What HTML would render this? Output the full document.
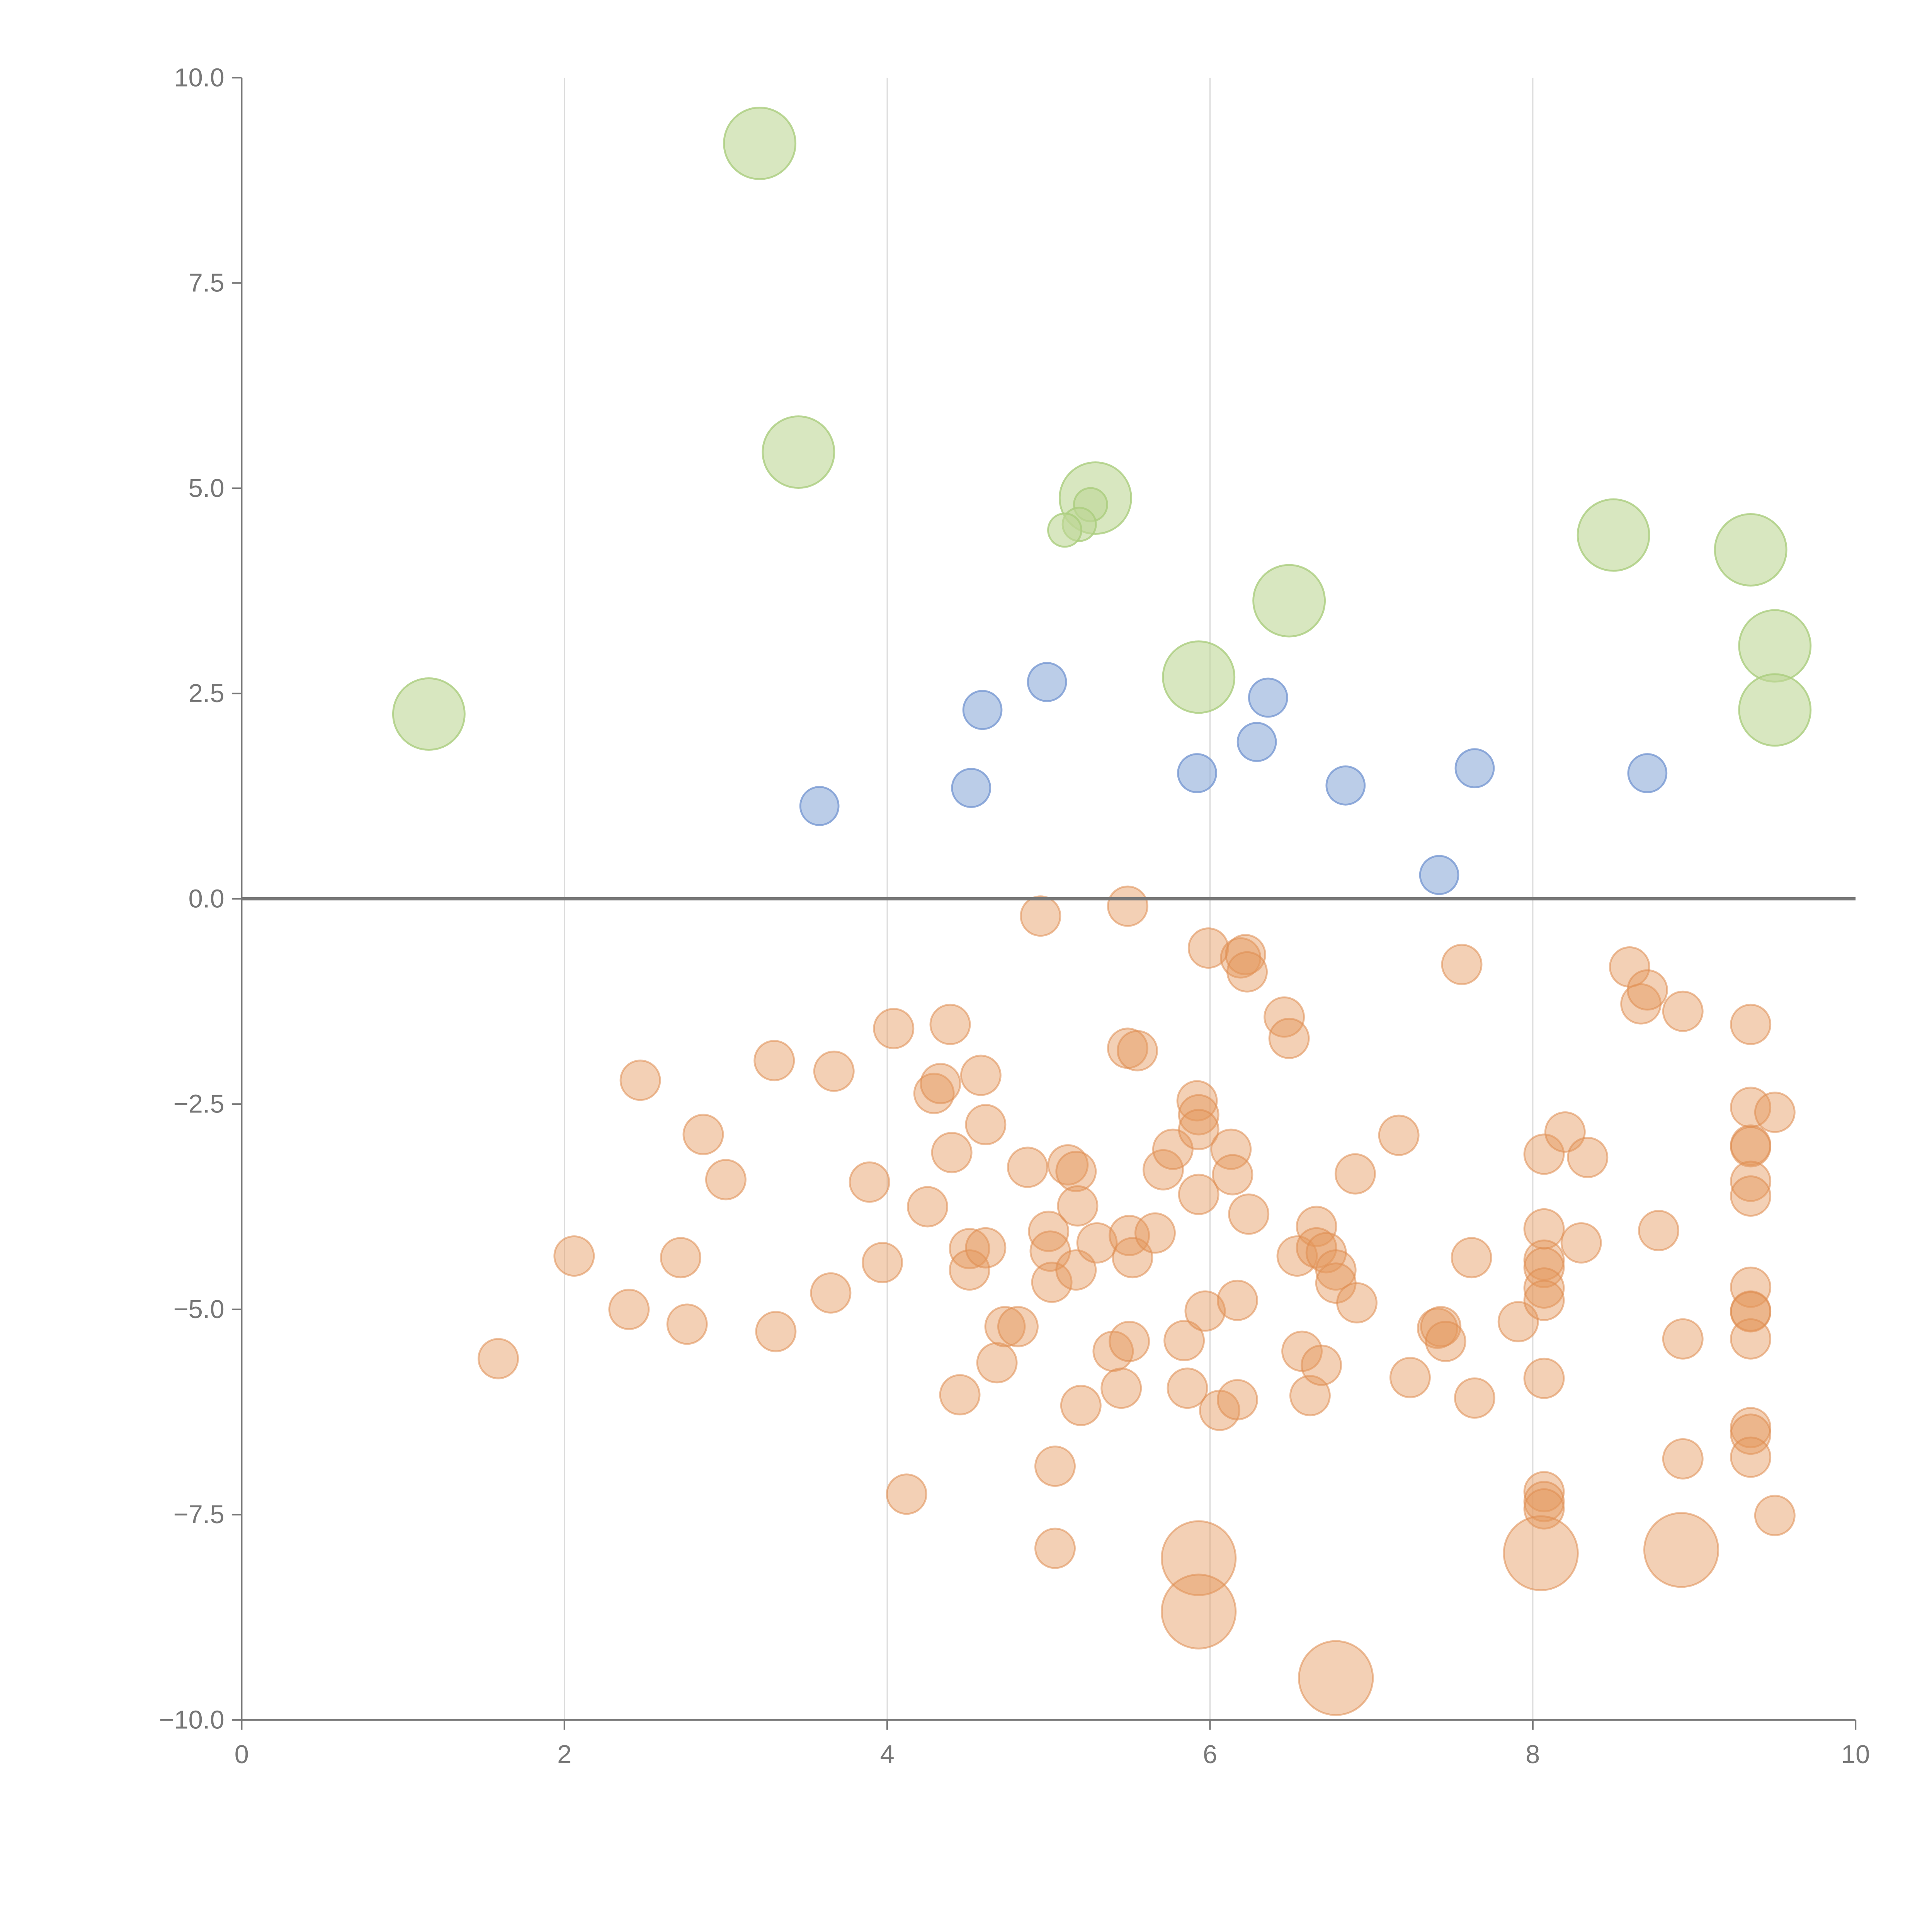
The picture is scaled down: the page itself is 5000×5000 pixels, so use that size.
<!DOCTYPE html>
<html><head><meta charset="utf-8"><style>html,body{margin:0;padding:0;background:#fff}svg{display:block}</style></head>
<body>
<svg id="chart" width="5000" height="5000" viewBox="0 0 1567 1567" xmlns="http://www.w3.org/2000/svg" font-family="Liberation Sans, sans-serif"></svg>
<script>
const xTicks=[0,2,4,6,8,10];
const yTicks=[10,7.5,5,2.5,0,-2.5,-5,-7.5,-10];
const blueX=[3.58,4.52,4.59,4.99,5.92,6.29,6.36,6.84,7.64,8.71,7.42];
const blueY=[1.13,1.35,2.30,2.64,1.53,1.91,2.45,1.38,1.59,1.53,0.29];
const greenX=[3.21,3.45,5.29,5.26,5.19,5.10,6.49,5.93,1.16,8.50,9.35,9.50,9.50];
const greenY=[9.20,5.44,4.88,4.80,4.56,4.49,3.63,2.70,2.25,4.43,4.25,3.08,2.30];
const greenS=[2,2,2,1,1,1,2,2,2,2,2,2,2];
const orangeX=[1.59,2.06,2.40,2.47,2.72,2.76,2.86,3.00,3.30,3.31,3.65,3.67,3.89,3.97,4.04,4.12,4.25,4.29,4.33,4.39,4.40,4.45,4.51,4.51,4.58,4.61,4.61,4.68,4.73,4.81,4.87,4.95,5.00,5.01,5.02,5.04,5.04,5.12,5.17,5.17,5.18,5.20,5.30,5.40,5.45,5.49,5.49,5.50,5.50,5.52,5.55,5.66,5.71,5.77,5.84,5.86,5.92,5.93,5.93,5.93,5.97,5.99,6.06,6.13,6.14,6.17,6.17,6.19,6.22,6.23,6.24,6.46,6.49,6.54,6.57,6.62,6.66,6.66,6.69,6.72,6.78,6.78,6.90,6.91,7.17,7.24,7.41,7.43,7.46,7.56,7.62,7.64,7.91,8.07,8.07,8.07,8.07,8.07,8.07,8.07,8.07,8.07,8.07,8.20,8.30,8.34,8.60,8.67,8.71,8.78,8.93,8.93,8.93,9.35,9.35,9.35,9.35,9.35,9.35,9.35,9.35,9.35,9.35,9.35,9.35,9.35,9.50,9.50,5.93,5.93,8.05,8.92,6.78];
const orangeY=[-5.60,-4.35,-5.00,-2.21,-4.37,-5.18,-2.87,-3.42,-1.97,-5.27,-4.80,-2.10,-3.45,-4.43,-1.58,-7.25,-3.75,-2.37,-2.25,-1.53,-3.09,-6.04,-4.26,-4.52,-2.15,-2.75,-4.25,-5.65,-5.21,-5.21,-3.27,-0.21,-4.05,-4.29,-4.67,-6.91,-7.91,-3.24,-3.32,-4.52,-3.74,-6.17,-4.19,-5.51,-5.96,-0.09,-1.82,-4.10,-5.39,-4.37,-1.85,-4.07,-3.30,-3.05,-5.38,-5.96,-2.46,-2.63,-2.81,-3.60,-5.02,-0.60,-6.23,-3.05,-3.36,-4.89,-6.10,-0.72,-0.68,-0.89,-3.84,-1.44,-1.70,-4.35,-5.51,-6.05,-3.99,-4.25,-5.68,-4.31,-4.52,-4.68,-3.35,-4.92,-2.88,-5.83,-5.23,-5.21,-5.39,-0.80,-4.37,-6.08,-5.15,-3.11,-4.02,-4.40,-4.49,-4.74,-4.89,-5.84,-7.22,-7.34,-7.43,-2.84,-4.19,-3.15,-0.83,-1.28,-1.11,-4.04,-1.37,-5.36,-6.82,-1.53,-2.54,-3.00,-3.02,-3.44,-3.62,-4.73,-5.02,-5.03,-5.36,-6.44,-6.52,-6.80,-2.60,-7.51,-8.03,-8.68,-7.97,-7.93,-9.49];
const orangeLarge=5;

const X0=196,X1=1505,Y0=1395,Y1=63;
const sx=v=>X0+(v-0)/10*(X1-X0);
const sy=v=>Y0-(v+10)/20*(Y0-Y1);
const svg=document.getElementById('chart');
const NS='http://www.w3.org/2000/svg';
function mk(tag,attrs,parent){const e=document.createElementNS(NS,tag);for(const k in attrs)e.setAttribute(k,attrs[k]);(parent||svg).appendChild(e);return e;}

xTicks.forEach(t=>{if(t>0&&t<10){const l=mk('line',{x1:sx(t),x2:sx(t),y1:Y1,y2:Y0,stroke:'#dcdcdc','stroke-width':1});

}});
const ya=mk('line',{x1:X0,x2:X0,y1:Y1,y2:Y0,stroke:'#777','stroke-width':1.3});


const xa=mk('line',{x1:X0,x2:X1,y1:Y0,y2:Y0,stroke:'#777','stroke-width':1.3});


xTicks.forEach(t=>{mk('line',{x1:sx(t),x2:sx(t),y1:Y0,y2:Y0+8,stroke:'#777','stroke-width':1.3});
const tx=mk('text',{x:sx(t),y:Y0+35,'text-anchor':'middle','font-size':21,fill:'#777'});tx.textContent=t;

});
yTicks.forEach(t=>{mk('line',{x1:X0-8,x2:X0,y1:sy(t),y2:sy(t),stroke:'#777','stroke-width':1.3});
const tx=mk('text',{x:X0-14,y:sy(t)+7,'text-anchor':'end','font-size':21,fill:'#777'});tx.textContent=t.toFixed(1).replace('-','\u2212');

});

orangeX.forEach((x,i)=>{const big=i>=orangeX.length-orangeLarge;
const c=mk('circle',{cx:sx(x),cy:sy(orangeY[i]),r:big?30:16,fill:'rgba(228,150,90,0.45)',stroke:'rgba(222,140,80,0.55)','stroke-width':1.5});

});
blueX.forEach((x,i)=>{const c=mk('circle',{cx:sx(x),cy:sy(blueY[i]),r:15.5,fill:'rgba(150,178,220,0.65)',stroke:'rgba(120,152,210,0.8)','stroke-width':1.5});

});
greenX.forEach((x,i)=>{const c=mk('circle',{cx:sx(x),cy:sy(greenY[i]),r:greenS[i]===2?29:13.5,fill:'rgba(190,215,150,0.6)',stroke:'rgba(170,205,125,0.8)','stroke-width':1.5});

});

const z=mk('line',{x1:X0,x2:X1,y1:sy(0),y2:sy(0),stroke:'#777','stroke-width':2.6});


</script>
</body></html>
